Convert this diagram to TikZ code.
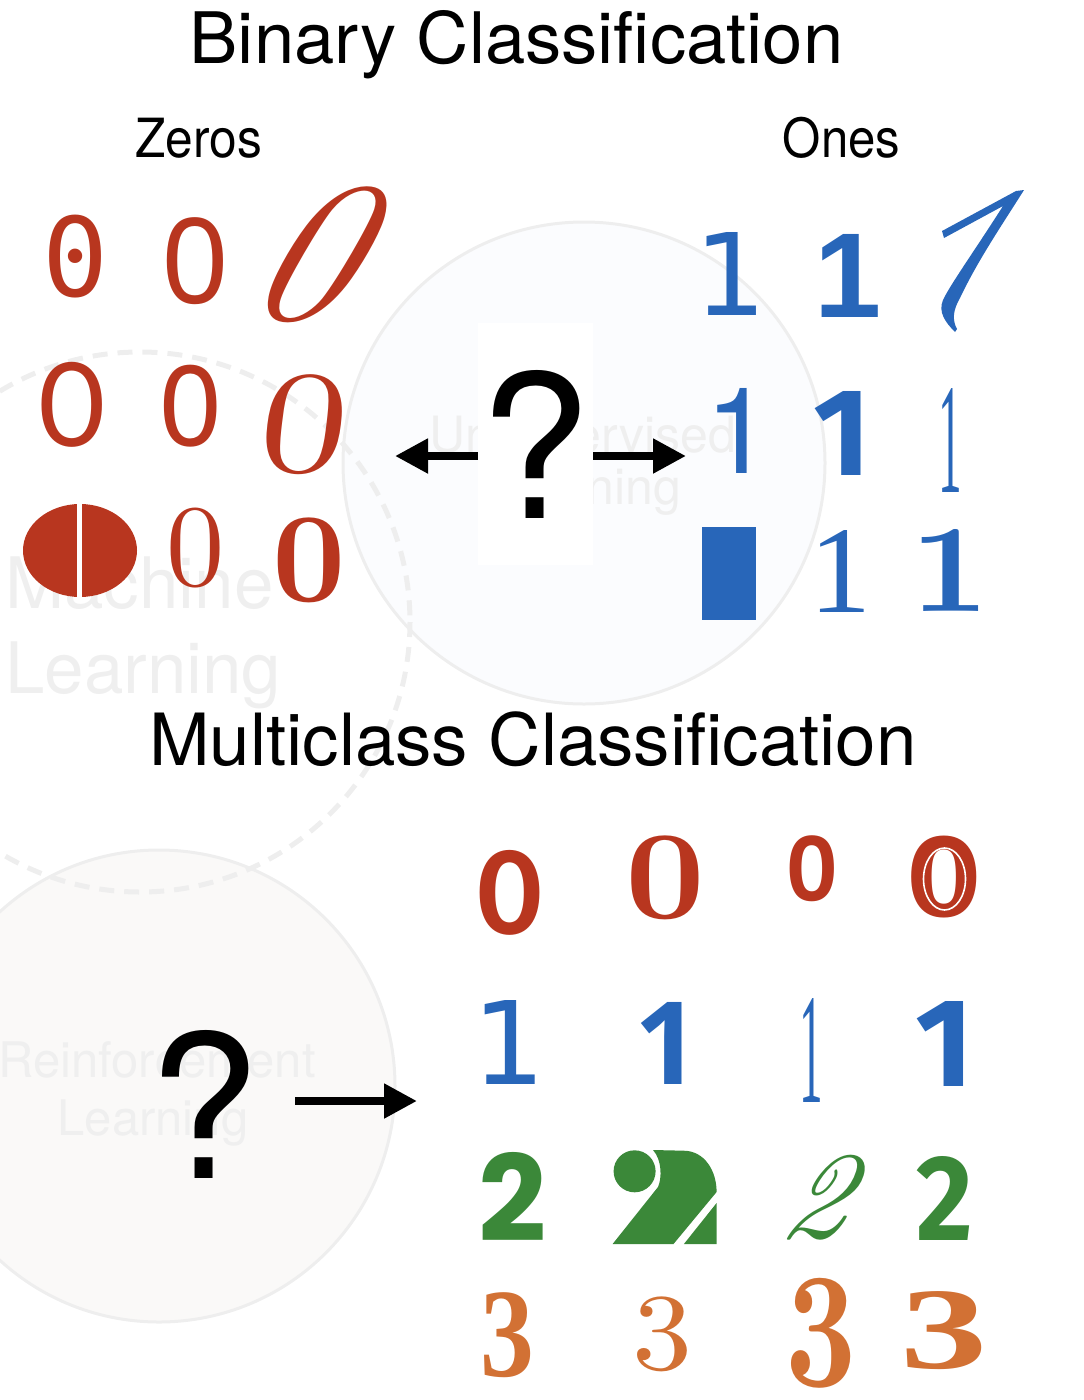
\documentclass[tikz,border=0pt]{standalone}
\usepackage{fontspec}
\usepackage{graphicx}
\usetikzlibrary{arrows.meta}
\newfontfamily\heros{TeX Gyre Heros}
\newfontfamily\dvmono{DejaVu Sans Mono}
\newfontfamily\dvsans{DejaVu Sans}
\newfontfamily\noto{Noto Sans}
\newfontfamily\lato{Lato}
\newfontfamily\libsans{Liberation Sans}
\newfontfamily\libserif{Liberation Serif}
\newfontfamily\fira{Fira Sans}
\newfontfamily\opensans{Open Sans}
\newfontfamily\ptsans{PT Sans}
\newfontfamily\poppins{Poppins}
\newfontfamily\carlito{Carlito}
\newfontfamily\lmr{Latin Modern Roman}
\definecolor{zred}{HTML}{B8361F}
\definecolor{oblue}{HTML}{2866B9}
\definecolor{tgreen}{HTML}{3B8839}
\definecolor{torange}{HTML}{D27134}
\definecolor{faint}{HTML}{EFEFEF}
\definecolor{ufill}{HTML}{FBFCFE}
\definecolor{rfill}{HTML}{FAF9F8}
\definecolor{cline}{HTML}{EEEEEE}
\newcommand{\fsz}[1]{\fontsize{#1}{#1}\selectfont}
\newcommand{\dg}[3][1]{\scalebox{#1}[1]{\resizebox*{!}{#2pt}{#3}}}
\begin{document}
\begin{tikzpicture}[x=1pt,y=-1pt,
  dgt/.style={inner sep=0pt, outer sep=0pt, anchor=center},
  ttl/.style={inner sep=0pt, anchor=base, font=\heros},
  fnt/.style={inner sep=0pt, anchor=base, text=faint, font=\heros},
  arr/.style={line width=8pt, -{Triangle[length=33pt,width=33pt]}},
  bgcirc/.style={draw=cline, line width=3pt}]
\useasboundingbox (0,0) rectangle (1084,1400);
% faint background
\filldraw[bgcirc, fill=ufill] (584,463) circle [radius=241];
\filldraw[bgcirc, fill=rfill] (159,1086) circle [radius=236];
\draw[draw=cline, line width=5pt, dash pattern=on 15pt off 10pt] (140,622) circle [radius=270];
\node[fnt, anchor=base west] (ml1) at (5,608) {\fsz{71}Machine};
\node[fnt, anchor=base west] (ml2) at (5,693) {\fsz{71}Learning};
\node[fnt] (ul1) at (583,452) {\fsz{50}Unsupervised};
\node[fnt] (ul2) at (584,504) {\fsz{50}Learning};
\node[fnt] (rl1) at (157,1077) {\fsz{49}Reinforcement};
\node[fnt] (rl2) at (153,1135) {\fsz{49}Learning};
% titles
\node[ttl] (t1) at (516.5,63) {\scalebox{1.02}[1]{\fsz{71}Binary Classification}};
\node[ttl] (zl) at (198.5,157) {\scalebox{0.92}[1]{\fsz{54}Zeros}};
\node[ttl] (ol) at (841.5,157) {\scalebox{0.91}[1]{\fsz{54}Ones}};
\node[ttl] (t2) at (533,765) {\scalebox{1.01}[1]{\fsz{72}Multiclass Classification}};
% question marks and arrows
\node[inner sep=0pt, fill=white, minimum width=115pt, minimum height=242pt] (q1) at (535.5,444) {\resizebox*{!}{148pt}{\heros ?}};
\coordinate (la) at (395,456);
\coordinate (ra) at (686,456);
\draw[arr] (q1.west |- la) -- (la);
\draw[arr] (q1.east |- ra) -- (ra);
\node[inner sep=0pt, minimum width=90pt, minimum height=148pt] (q2) at (204,1104) {\resizebox*{!}{148pt}{\heros ?}};
\coordinate (ba) at (417,1101);
\draw[arr] ([xshift=91pt,yshift=3pt]q2.center) -- (ba);
% binary zeros
\node[dgt,text=zred] (z1) at (75.5,256.5) {\dg{83}{\dvmono 0}};
\node[dgt,text=zred] (z2) at (195,261.5) {\dg{87}{\noto 0}};
\node[dgt,text=zred,xslant=0.32,transform shape] (z3) at (311,255) {\dg[1.05]{136}{\lmr\itshape 0}};
\node[dgt,text=zred] (z4) at (72.5,404.5) {\dg{85}{\lato 0}};
\node[dgt,text=zred] (z5) at (191,406) {\dg{82}{\heros 0}};
\node[dgt,text=zred,xslant=0.12,transform shape] (z6) at (305,425) {\dg[1.2]{100}{\lmr 0}};
\fill[zred] (80,550.5) ellipse [x radius=57, y radius=46.5];
\fill[white] (76.5,500) rectangle (81.5,600);
\node[dgt,text=zred] (z8) at (196,548) {\dg{80}{\lmr 0}};
\node[dgt,text=zred] (z9) at (309,560.5) {\dg{85}{\lmr\bfseries 0}};
% binary ones
\node[dgt,text=oblue] (o1) at (731,273.5) {\dg{83}{\dvsans 1}};
\node[dgt,text=oblue] (o2) at (848,275.5) {\dg{83}{\libsans\bfseries 1}};
\fill[oblue] (1024,190) -- (1016,191) -- (942,231) -- (944,238) -- (1003,206)
  .. controls (975,250) and (950,285) .. (943,300)
  .. controls (938,312) and (945,322) .. (955,332)
  -- (957,329)
  .. controls (952,320) and (953,310) .. (960,298)
  .. controls (978,260) and (1002,225) .. (1024,190) -- cycle;
\node[dgt,text=oblue] (o4) at (739,430.5) {\dg{85}{\heros 1}};
\node[dgt,text=oblue] (o5) at (842,433) {\dg{84}{\fira\bfseries 1}};
\node[dgt,text=oblue] (o6) at (950.5,440) {\dg[0.3]{104}{\libserif 1}};
\fill[oblue] (702,527) rectangle (756,620);
\node[dgt,text=oblue] (o8) at (841,571) {\dg{82}{\libserif 1}};
\node[dgt,text=oblue] (o9) at (950,570) {\dg[1.1]{82}{\lmr\bfseries 1}};
% multiclass
\node[dgt,text=zred] (m00) at (510,892.5) {\dg{85}{\carlito\bfseries 0}};
\node[dgt,text=zred] (m01) at (665,878) {\dg[1.1]{84}{\lmr\bfseries 0}};
\node[dgt,text=zred] (m02) at (812,869) {\dg{66}{\ptsans\bfseries 0}};
\node[dgt,text=zred] (m03) at (944.5,877) {\dg{82}{\dvsans\bfseries 0}};
\draw[white,line width=1.6pt] (944.5,879) ellipse [x radius=21, y radius=31];
\node[dgt,text=oblue] (m10) at (509.5,1042) {\dg{84}{\dvsans 1}};
\node[dgt,text=oblue] (m11) at (667,1043) {\dg{82}{\opensans\bfseries 1}};
\node[dgt,text=oblue] (m12) at (811.5,1050) {\dg[0.3]{104}{\libserif 1}};
\node[dgt,text=oblue] (m13) at (945,1043.5) {\dg{85}{\fira\bfseries 1}};
\node[dgt,text=tgreen] (m20) at (512.5,1196.5) {\dg{89}{\poppins\bfseries 2}};
\fill[tgreen] (653,1150) -- (684,1150.7) .. controls (704,1151) and (716.6,1170) .. (716.6,1192)
  -- (673.5,1244) -- (612.6,1244) -- (658,1187)
  .. controls (662,1178) and (662,1160) .. (653,1150) -- cycle;
\fill[tgreen] (716.6,1203) -- (716.6,1244) -- (683.9,1244) -- cycle;
\draw[white, line width=4pt] (634.6,1171.3) circle [radius=23];
\fill[tgreen] (634.6,1171.3) circle [radius=21];
\node[dgt,text=tgreen,xslant=0.3,transform shape] (m22) at (821,1197.5) {\dg{85}{\lmr\itshape 2}};
\node[dgt,text=tgreen] (m23) at (945,1198) {\dg[0.9]{84}{\fira\bfseries 2}};
\node[dgt,text=torange] (m30) at (507.5,1335.5) {\dg[0.85]{85}{\libserif\bfseries 3}};
\node[dgt,text=torange] (m31) at (662,1334.5) {\dg[1.1]{75}{\lmr 3}};
\node[dgt,text=torange] (m32) at (821.5,1333) {\dg[0.75]{110}{\lmr\bfseries 3}};
\node[dgt,text=torange] (m33) at (944.5,1331) {\dg[1.5]{78}{\libserif\bfseries 3}};
\end{tikzpicture}
\end{document}
